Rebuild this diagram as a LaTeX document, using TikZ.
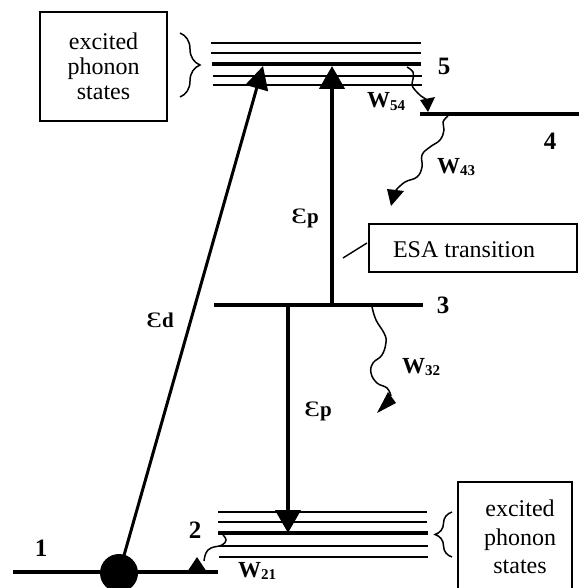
\documentclass[tikz,border=0pt]{standalone}
\usepackage{fontspec}
\setmainfont{Liberation Serif}
\usetikzlibrary{arrows.meta,decorations.pathreplacing}
\newcommand\wlabel[1]{{\fontsize{23}{23}\selectfont\bfseries W}{\fontsize{15}{15}\selectfont\bfseries\raisebox{-2.5pt}{#1}}}
\newcommand\epslabel[1]{{\fontsize{22}{22}\selectfont\scalebox{1.45}[1]{Ɛ}}{\fontsize{21}{21}\selectfont\bfseries #1}}
\begin{document}
\begin{tikzpicture}[x=1pt,y=-1pt,
  lvl/.style={line width=4.3pt},
  sublvl/.style={line width=1.9pt},
  trans/.style={line width=4.5pt,-{Triangle[length=23pt,width=25pt]}},
  transd/.style={line width=3pt,-{Triangle[length=23pt,width=23pt]}},
  wave/.style={line width=1.5pt},
  head/.style={fill=black},
  frame/.style={draw,line width=1.4pt},
  bracest/.style={line width=1.5pt,decorate},
  num/.style={font=\fontsize{25}{25}\selectfont\bfseries,inner sep=0pt},
  txt/.style={font=\fontsize{24}{25}\selectfont,align=center,inner sep=0pt},
  txtb/.style={font=\fontsize{24}{28.5}\selectfont,align=center,inner sep=0pt},
  lab/.style={inner sep=0pt,anchor=base west}]
\useasboundingbox (0,0) rectangle (579,588);

% level 5 (with phonon sublevels)
\draw[sublvl] (211,43) -- (421,43);
\draw[sublvl] (211,53) -- (421,53);
\draw[lvl] (212,64) -- (421,64);
\draw[sublvl] (213,76) -- (422,76);
\draw[sublvl] (213,85) -- (422,85);
% level 4
\draw[lvl] (420,114) -- (579,114);
% level 3
\draw[lvl] (214,305) -- (423,305);
% level 2 (with phonon sublevels)
\draw[sublvl] (218,512) -- (427,512);
\draw[sublvl] (218,522) -- (427,522);
\draw[lvl] (218,533) -- (428,533);
\draw[sublvl] (219,546) -- (428,546);
\draw[sublvl] (219,557) -- (428,557);
% level 1
\draw[lvl] (13,572) -- (218,572);
\node[circle,fill=black,minimum size=38pt,inner sep=0pt] (dot) at (119,573) {};

% transitions
\coordinate (e5d) at (263,66);
\coordinate (e3a) at (332,305);
\coordinate (e5p) at (332,66);
\coordinate (e3b) at (288,305);
\coordinate (e2p) at (288,533);
\draw[transd] (dot.center) -- (e5d);
\draw[trans] (e3a) -- (e5p);
\draw[trans] (e3b) -- (e2p);

% labels of levels
\node[num] (n5) at (444,66) {5};
\node[num] (n4) at (550,141) {4};
\node[num] (n3) at (443,305) {3};
\node[num] (n2) at (195,530) {2};
\node[num] (n1) at (41,548) {1};

% epsilon labels
\node[lab] (epd) at (146,327) {\epslabel{d}};
\node[lab] (epp1) at (291,223) {\epslabel{p}};
\node[lab] (epp2) at (304,416) {\epslabel{p}};

% W54
\draw[wave] plot[smooth,tension=0.7] coordinates {(407,67) (413,72) (413,79) (412,85) (415,90) (421,96) (426,99)};
\fill[head] (420,100) -- (435,97) -- (428,112) -- cycle;
\node[lab] (w54) at (367,108) {\wlabel{54}};
% W43
\draw[wave] plot[smooth,tension=0.7] coordinates {(448,116) (443,122) (444,130) (440,140) (430,147) (422,155) (422,167) (417,177) (405,182) (396,190)};
\fill[head] (387,189) -- (404,191) -- (391,206) -- cycle;
\node[lab] (w43) at (437,173) {\wlabel{43}};
% W32
\draw[wave] plot[smooth,tension=0.7] coordinates {(372,307) (376,320) (384,333) (386,342) (382,355) (373,363) (371,373) (377,383) (387,388) (391,396)};
\fill[head] (388,392) -- (396,403) -- (377,413) -- cycle;
\node[lab] (w32) at (402,373) {\wlabel{32}};
% W21
\draw[wave] plot[smooth,tension=0.7] coordinates {(223,535) (226,540) (222,545) (211,548) (206,553) (204,561)};
\fill[head] (187,572) -- (207,572) -- (197,557) -- cycle;
\node[lab] (w21) at (238,577) {\wlabel{21}};

% top-left box and brace
\node[frame,txt,minimum width=127pt,minimum height=109pt] (boxA) at (103.5,66.5) {excited\\phonon\\states};
\draw[bracest,decoration={brace,amplitude=20pt}] (180,33) -- (180,97);

% ESA box
\node[frame,minimum width=208pt,minimum height=48pt,inner sep=0pt] (esa) at (473,248) {};
\node[inner sep=0pt,font=\fontsize{24}{24}\selectfont] (esat) at (464,250) {ESA transition};
\coordinate (esaA) at (367,243);
\coordinate (esaB) at (343,258);
\draw[line width=1.4pt] (esaA) -- (esaB);

% bottom-right box and brace
\draw[line width=1.4pt] (458,590) -- (458,482) -- (572,482) -- (572,590);
\node[txtb] (boxBt) at (520,537) {excited\\phonon\\states};
\draw[bracest,decoration={brace,amplitude=17pt}] (452,557) -- (452,512);
\end{tikzpicture}
\end{document}
